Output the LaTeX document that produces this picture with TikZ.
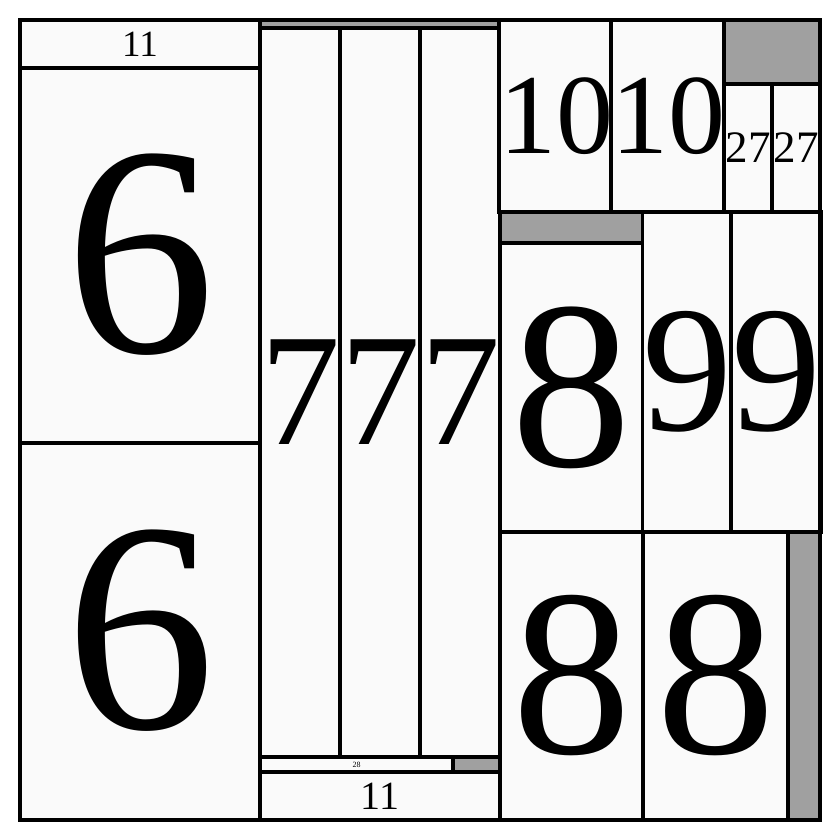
\documentclass[tikz,border=0pt]{standalone}
\usepackage{fontspec}
\setmainfont{Liberation Serif}
\definecolor{cellfill}{HTML}{FAFAFA}
\definecolor{cellgray}{HTML}{A0A0A0}
\tikzset{
  cell/.style={draw=black, line width=3.5pt, fill=cellfill, inner sep=0pt, outer sep=0pt, anchor=center},
  gapcell/.style={cell, fill=cellgray},
  fs/.style={font=\fontsize{#1}{#1}\selectfont}
}
\begin{document}
\begin{tikzpicture}[x=1pt,y=-1pt]
\useasboundingbox (0,0) rectangle (840,840);
% left column
\node[cell, fs=37, minimum width=240, minimum height=48] (l11) at (140,44) {11};
\node[cell, fs=300, minimum width=240, minimum height=375] (l6a) at (140,255.5) {\raisebox{5pt}{6}};
\node[cell, fs=300, minimum width=240, minimum height=377] (l6b) at (140,631.5) {\raisebox{5pt}{6}};
% middle column
\node[gapcell, minimum width=240, minimum height=8] (mg) at (380,24) {};
\node[cell, fs=160, minimum width=80, minimum height=729] (m7a) at (300,392.5) {7};
\node[cell, fs=160, minimum width=80, minimum height=729] (m7b) at (380,392.5) {7};
\node[cell, fs=160, minimum width=80, minimum height=729] (m7c) at (460,392.5) {7};
\node[cell, fs=8, minimum width=193, minimum height=15] (m28) at (356.5,764.5) {28};
\node[gapcell, minimum width=47, minimum height=15] (mg2) at (476.5,764.5) {};
\node[cell, fs=40, minimum width=240, minimum height=48] (m11) at (380,796) {11};
% right column
\node[cell, fs=114, minimum width=112, minimum height=192] (r10a) at (556,116) {10};
\node[cell, fs=114, minimum width=112, minimum height=192] (r10b) at (668,116) {10};
\node[gapcell, minimum width=96, minimum height=64] (rg1) at (772,52) {};
\node[cell, fs=45, minimum width=48, minimum height=128] (r27a) at (748,148) {27};
\node[cell, fs=45, minimum width=48, minimum height=128] (r27b) at (796,148) {27};
\node[gapcell, minimum width=143, minimum height=31] (rg2) at (571.5,227.5) {};
\node[cell, fs=240, minimum width=143, minimum height=289] (r8a) at (571.5,387.5) {8};
\node[cell, fs=180, minimum width=89, minimum height=320] (r9a) at (687.5,372) {9};
\node[cell, fs=180, minimum width=88, minimum height=320] (r9b) at (776,372) {9};
\node[cell, fs=238, minimum width=143, minimum height=288] (r8b) at (571.5,676) {8};
\node[cell, fs=238, minimum width=145, minimum height=288] (r8c) at (715.5,676) {8};
\node[gapcell, minimum width=32, minimum height=288] (rg3) at (804,676) {};
% outer frame
\node[draw=black, line width=3.5pt, inner sep=0pt, minimum width=800, minimum height=800] (frame) at (420,420) {};
\end{tikzpicture}
\end{document}
